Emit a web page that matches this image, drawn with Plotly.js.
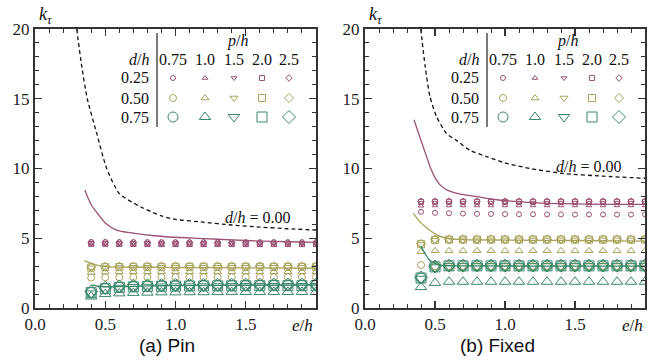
<!DOCTYPE html>
<html><head><meta charset="utf-8">
<script src="https://cdn.plot.ly/plotly-3.0.1.min.js"></script>
<style>html,body{margin:0;padding:0;background:#fff}</style>
</head><body><div id="chart" style="width:659px;height:361px"></div>
<script>
// ---------- DATA ----------
const EH = [0.4,0.5,0.6,0.7,0.8,0.9,1.0,1.1,1.2,1.3,1.4,1.5,1.6,1.7,1.8,1.9,2.0];
const PH_LABELS = ['0.75','1.0','1.5','2.0','2.5'];
const DH_LABELS = ['0.25','0.50','0.75'];
const X_TICKS = ['0.0','0.5','1.0','1.5',''];
const Y_TICKS = ['0','5','10','15','20'];

// Pin, d/h = 0.25
const PIN_D025_P075 = [4.74,4.74,4.73,4.73,4.72,4.72,4.72,4.72,4.72,4.72,4.72,4.72,4.72,4.72,4.72,4.72,4.72];
const PIN_D025_P100 = [4.54,4.54,4.53,4.53,4.53,4.52,4.52,4.52,4.52,4.52,4.52,4.52,4.52,4.52,4.52,4.52,4.52];
const PIN_D025_P150 = [4.66,4.66,4.65,4.65,4.65,4.64,4.64,4.64,4.64,4.64,4.64,4.64,4.64,4.64,4.64,4.64,4.64];
const PIN_D025_P200 = [4.60,4.60,4.59,4.59,4.59,4.58,4.58,4.58,4.58,4.58,4.58,4.58,4.58,4.58,4.58,4.58,4.58];
const PIN_D025_P250 = [4.69,4.69,4.68,4.68,4.68,4.67,4.67,4.67,4.67,4.67,4.67,4.67,4.67,4.67,4.67,4.67,4.67];
// Pin, d/h = 0.50
const PIN_D050_P075 = [2.18,2.20,2.20,2.21,2.21,2.21,2.21,2.21,2.21,2.21,2.21,2.21,2.21,2.21,2.21,2.21,2.21];
const PIN_D050_P100 = [2.55,2.58,2.60,2.60,2.60,2.60,2.60,2.60,2.60,2.60,2.60,2.60,2.60,2.60,2.60,2.60,2.60];
const PIN_D050_P150 = [2.88,2.90,2.91,2.92,2.92,2.92,2.92,2.92,2.92,2.92,2.92,2.92,2.92,2.92,2.92,2.92,2.92];
const PIN_D050_P200 = [2.90,2.93,2.94,2.95,2.95,2.95,2.95,2.95,2.95,2.95,2.95,2.95,2.95,2.95,2.95,2.95,2.95];
const PIN_D050_P250 = [2.93,2.96,2.97,2.98,2.98,2.98,2.98,2.98,2.98,2.98,2.98,2.98,2.98,2.98,2.98,2.98,2.98];
// Pin, d/h = 0.75
const PIN_D075_P075 = [1.12,1.40,1.50,1.55,1.58,1.60,1.60,1.62,1.62,1.62,1.63,1.63,1.63,1.64,1.64,1.64,1.65];
const PIN_D075_P100 = [0.82,1.00,1.05,1.08,1.10,1.12,1.12,1.13,1.13,1.14,1.14,1.15,1.15,1.15,1.15,1.15,1.15];
const PIN_D075_P150 = [1.05,1.35,1.45,1.50,1.52,1.54,1.55,1.55,1.56,1.56,1.57,1.57,1.57,1.58,1.58,1.58,1.58];
const PIN_D075_P200 = [1.10,1.38,1.48,1.52,1.55,1.56,1.57,1.58,1.58,1.59,1.59,1.59,1.60,1.60,1.60,1.60,1.60];
const PIN_D075_P250 = [1.18,1.45,1.55,1.60,1.62,1.64,1.65,1.65,1.66,1.66,1.67,1.67,1.67,1.68,1.68,1.68,1.68];

// Fixed, d/h = 0.25
const FIX_D025_P075 = [6.90,6.82,6.79,6.77,6.75,6.74,6.73,6.72,6.72,6.71,6.71,6.70,6.70,6.70,6.70,6.70,6.70];
const FIX_D025_P100 = [7.33,7.35,7.35,7.35,7.35,7.35,7.35,7.35,7.35,7.35,7.35,7.35,7.35,7.35,7.35,7.35,7.35];
const FIX_D025_P150 = [7.55,7.56,7.56,7.56,7.56,7.56,7.56,7.56,7.56,7.56,7.56,7.56,7.56,7.56,7.56,7.56,7.56];
const FIX_D025_P200 = [7.60,7.61,7.61,7.61,7.61,7.61,7.61,7.61,7.61,7.61,7.61,7.61,7.61,7.61,7.61,7.61,7.61];
const FIX_D025_P250 = [7.65,7.66,7.66,7.66,7.66,7.66,7.66,7.66,7.66,7.66,7.66,7.66,7.66,7.66,7.66,7.66,7.66];
// Fixed, d/h = 0.50
const FIX_D050_P075 = [3.08,2.98,3.00,3.00,3.00,3.00,3.00,3.00,3.00,3.00,3.00,3.00,3.00,3.00,3.00,3.00,3.00];
const FIX_D050_P100 = [4.03,4.10,4.10,4.10,4.10,4.10,4.10,4.10,4.10,4.10,4.10,4.10,4.10,4.10,4.10,4.10,4.10];
const FIX_D050_P150 = [4.55,4.86,4.88,4.88,4.88,4.88,4.88,4.88,4.88,4.88,4.88,4.88,4.88,4.88,4.88,4.88,4.88];
const FIX_D050_P200 = [4.58,4.88,4.90,4.90,4.90,4.90,4.90,4.90,4.90,4.90,4.90,4.90,4.90,4.90,4.90,4.90,4.90];
const FIX_D050_P250 = [4.60,4.90,4.92,4.92,4.92,4.92,4.92,4.92,4.92,4.92,4.92,4.92,4.92,4.92,4.92,4.92,4.92];
// Fixed, d/h = 0.75
const FIX_D075_P075 = [2.15,2.95,3.02,3.02,3.02,3.02,3.02,3.02,3.02,3.02,3.02,3.02,3.02,3.02,3.02,3.02,3.02];
const FIX_D075_P100 = [1.50,1.80,1.88,1.88,1.88,1.88,1.88,1.88,1.88,1.88,1.88,1.88,1.88,1.88,1.88,1.88,1.88];
const FIX_D075_P150 = [2.10,2.92,3.00,3.00,3.00,3.00,3.00,3.00,3.00,3.00,3.00,3.00,3.00,3.00,3.00,3.00,3.00];
const FIX_D075_P200 = [2.15,2.95,3.02,3.02,3.02,3.02,3.02,3.02,3.02,3.02,3.02,3.02,3.02,3.02,3.02,3.02,3.02];
const FIX_D075_P250 = [2.20,2.98,3.04,3.04,3.04,3.04,3.04,3.04,3.04,3.04,3.04,3.04,3.04,3.04,3.04,3.04,3.04];

// Curves, Pin
const PIN_D000_X = [0.297,0.33,0.372,0.44,0.51,0.6,0.75,0.9,1.0,1.2,1.4,1.6,1.8,2.0];
const PIN_D000_Y = [20,17.5,15,12.5,10,8.2,7.26,6.6,6.35,6.15,5.95,5.8,5.68,5.59];
const PIN_D025_X = [0.355,0.4,0.463,0.5,0.58,0.7,0.85,1.0,1.2,1.4,1.6,1.8,2.0];
const PIN_D025_Y = [8.46,7.4,6.55,6.1,5.59,5.37,5.18,5.07,4.98,4.88,4.8,4.75,4.71];
const PIN_D050_X = [0.35,0.4,0.45,0.5,0.6,0.8,1.0,1.5,2.0];
const PIN_D050_Y = [3.39,3.2,3.05,2.97,2.93,2.92,2.9,2.88,2.85];
const PIN_D075_X = [0.4,0.45,0.5,0.6,0.7,0.8,1.0,1.5,2.0];
const PIN_D075_Y = [1.65,1.56,1.52,1.53,1.55,1.58,1.6,1.63,1.65];
// Curves, Fixed
const FIX_D000_X = [0.398,0.43,0.464,0.512,0.583,0.655,0.75,0.87,1.0,1.18,1.41,1.7,2.0];
const FIX_D000_Y = [20,17.3,15.15,13.7,12.5,12.0,11.3,10.85,10.4,10.0,9.65,9.45,9.3];
const FIX_D025_X = [0.35,0.39,0.44,0.47,0.5,0.53,0.57,0.62,0.68,0.8,0.94,1.18,1.5,2.0];
const FIX_D025_Y = [13.5,12.3,10.85,10.0,9.35,8.9,8.55,8.32,8.17,7.98,7.76,7.56,7.47,7.43];
const FIX_D050_X = [0.345,0.4,0.46,0.52,0.58,0.7,1.0,1.5,2.0];
const FIX_D050_Y = [6.79,6.1,5.59,5.2,5.0,4.9,4.87,4.84,4.8];
const FIX_D075_X = [0.398,0.43,0.46,0.5,0.54,0.6,0.8,1.0,1.5,2.0];
const FIX_D075_Y = [4.44,3.9,3.44,3.2,3.08,3.03,3.02,3.01,3.0,3.0];

// ---------- STYLE ----------
const W = 659, H = 361;
const COLORS = ['#9a5275','#a8a45c','#3b876a'];
const SIZES = [5,7,10];
const SYMBOLS = ['circle-open','triangle-up-open','triangle-down-open','square-open','diamond-open'];
const SERIF = 'Liberation Serif';
const SANS = 'Liberation Sans';

const PIN = [[PIN_D025_P075,PIN_D025_P100,PIN_D025_P150,PIN_D025_P200,PIN_D025_P250],
             [PIN_D050_P075,PIN_D050_P100,PIN_D050_P150,PIN_D050_P200,PIN_D050_P250],
             [PIN_D075_P075,PIN_D075_P100,PIN_D075_P150,PIN_D075_P200,PIN_D075_P250]];
const FIX = [[FIX_D025_P075,FIX_D025_P100,FIX_D025_P150,FIX_D025_P200,FIX_D025_P250],
             [FIX_D050_P075,FIX_D050_P100,FIX_D050_P150,FIX_D050_P200,FIX_D050_P250],
             [FIX_D075_P075,FIX_D075_P100,FIX_D075_P150,FIX_D075_P200,FIX_D075_P250]];
const PIN_CURVES = [[PIN_D025_X,PIN_D025_Y],[PIN_D050_X,PIN_D050_Y],[PIN_D075_X,PIN_D075_Y]];
const FIX_CURVES = [[FIX_D025_X,FIX_D025_Y],[FIX_D050_X,FIX_D050_Y],[FIX_D075_X,FIX_D075_Y]];

const traces = [];
function addPanel(data, curves, d0x, d0y, xa, ya) {
  data.forEach((row, r) => row.forEach((ys, p) => {
    traces.push({type:'scatter', mode:'markers', x:EH, y:ys, xaxis:xa, yaxis:ya,
      marker:{symbol:SYMBOLS[p], size:SIZES[r], color:COLORS[r], line:{width:1, color:COLORS[r]}},
      showlegend:false, hoverinfo:'skip'});
  }));
  curves.forEach((c, r) => traces.push({type:'scatter', mode:'lines', x:c[0], y:c[1], xaxis:xa, yaxis:ya,
    line:{color:COLORS[r], width:1.3, shape:'spline', smoothing:0.8}, showlegend:false, hoverinfo:'skip'}));
  traces.push({type:'scatter', mode:'lines', x:d0x, y:d0y, xaxis:xa, yaxis:ya,
    line:{color:'#111', width:1.3, dash:'4px,3px', shape:'spline', smoothing:0.6}, showlegend:false, hoverinfo:'skip'});
}
addPanel(PIN, PIN_CURVES, PIN_D000_X, PIN_D000_Y, 'x', 'y');
addPanel(FIX, FIX_CURVES, FIX_D000_X, FIX_D000_Y, 'x2', 'y2');

// legend-table markers drawn on a pixel overlay axis
const LEG_COLX = [173,205,234,262,289];
const LEG_ROWY = [78,98,117];
[0,330].forEach(off => {
  LEG_ROWY.forEach((ry, r) => LEG_COLX.forEach((cx, p) => {
    traces.push({type:'scatter', mode:'markers', x:[cx+off], y:[ry], xaxis:'x3', yaxis:'y3',
      marker:{symbol:SYMBOLS[p], size:SIZES[r], color:COLORS[r], line:{width:1, color:COLORS[r]}},
      showlegend:false, hoverinfo:'skip', cliponaxis:false});
  }));
});

const px = v => v / W, py = v => 1 - v / H;
const annotations = [], shapes = [];
function txt(text, x, y, size, font, xanchor) {
  annotations.push({text, x:px(x), y:py(y), xref:'paper', yref:'paper', showarrow:false,
    xanchor:xanchor||'center', yanchor:'middle', font:{family:font||SERIF, size:size||16, color:'#111'}});
}
[0,330].forEach(off => {
  txt('<i>k</i><sub><i>τ</i></sub>', 37+off, 15, 18, SERIF, 'left');
  txt('<i>p</i>/<i>h</i>', 237+off, 41, 16);
  txt('<i>d</i>/<i>h</i>', 151+off, 59, 16, SERIF, 'right');
  PH_LABELS.forEach((t,i) => txt(t, LEG_COLX[i]+off, 59, 16));
  DH_LABELS.forEach((t,i) => txt(t, 151+off, LEG_ROWY[i], 16, SERIF, 'right'));
  txt('<i>e</i>/<i>h</i>', 315+off, 325, 17, SERIF, 'right');
  shapes.push({type:'line', xref:'paper', yref:'paper', x0:px(157+off), x1:px(157+off), y0:py(33), y1:py(127),
    line:{color:'#222', width:1.2}});
});
txt('<i>d</i>/<i>h</i> = 0.00', 257, 217, 16);
txt('<i>d</i>/<i>h</i> = 0.00', 588, 166, 16);
txt('(a) Pin', 167, 345, 19, SANS);
txt('(b) Fixed', 497, 345, 19, SANS);

function xax(dom, anchor) {
  return {domain:dom, anchor, range:[0,2], tickmode:'array', tickvals:[0,0.5,1,1.5,2], ticktext:X_TICKS,
    ticks:'inside', ticklen:7, tickwidth:1.3, tickcolor:'#333',
    minor:{ticks:'inside', dtick:0.1, tick0:0, ticklen:4, tickwidth:1, tickcolor:'#333'},
    showline:true, linewidth:2, linecolor:'#333', mirror:'ticks', showgrid:false, zeroline:false,
    tickfont:{family:SERIF, size:17, color:'#222'}, fixedrange:true};
}
function yax(anchor) {
  return {domain:[1-308/H, 1-29/H], anchor, range:[0,20], tickmode:'array', tickvals:[0,5,10,15,20], ticktext:Y_TICKS,
    ticks:'inside', ticklen:7, tickwidth:1.3, tickcolor:'#333',
    minor:{ticks:'inside', dtick:1, tick0:0, ticklen:4, tickwidth:1, tickcolor:'#333'},
    showline:true, linewidth:2, linecolor:'#333', mirror:'ticks', showgrid:false, zeroline:false,
    tickfont:{family:SERIF, size:17, color:'#222'}, fixedrange:true};
}

const layout = {
  width:W, height:H, margin:{l:0, r:0, t:0, b:0},
  font:{family:SERIF},
  paper_bgcolor:'#fff', plot_bgcolor:'rgba(0,0,0,0)', showlegend:false,
  xaxis: xax([35/W, 316/W], 'y'), yaxis: yax('x'),
  xaxis2: xax([365/W, 645/W], 'y2'), yaxis2: yax('x2'),
  xaxis3: {domain:[0,1], range:[0,W], visible:false, anchor:'y3', fixedrange:true},
  yaxis3: {domain:[0,1], range:[H,0], visible:false, anchor:'x3', fixedrange:true},
  annotations, shapes
};
Plotly.newPlot('chart', traces, layout, {staticPlot:true, displayModeBar:false});
</script></body></html>
